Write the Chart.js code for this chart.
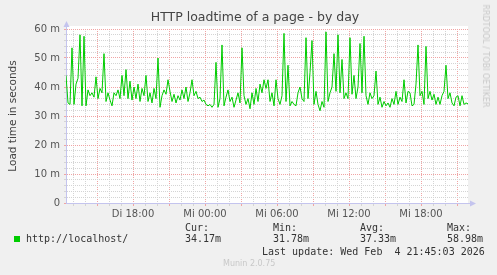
<!DOCTYPE html>
<html lang="de">
<head>
  <meta charset="UTF-8" />
  <title>HTTP loadtime of a page - by day</title>
  <script src="https://cdn.jsdelivr.net/npm/chart.js"></script>
  <style>
    body {
      margin: 0;
      padding: 0;
      background-color: #f0f0f0;
      font-family: 'DejaVu Sans', sans-serif;
    }

    .wrap {
      position: relative;
      width: 497px;
      height: 275px;
      overflow: hidden;
    }

    #loadChart {
      position: absolute;
      left: 0;
      top: 0;
    }

    .txt {
      position: absolute;
      white-space: pre;
      line-height: 1;
    }

    .mono {
      font-family: 'DejaVu Sans Mono', monospace;
      font-size: 10px;
      color: #333;
    }

    .title {
      left: 0;
      width: 510px;
      top: 11px;
      text-align: center;
      font-size: 12.5px;
      color: #444;
    }

    .ytitle {
      left: 12px;
      top: 116px;
      font-size: 10.5px;
      color: #444;
      transform: translate(-50%, -50%) rotate(-90deg);
    }

    .watermark {
      left: 485px;
      top: 56px;
      font-size: 8px;
      color: #c8c8c8;
      transform: translate(-50%, -50%) rotate(90deg);
    }

    .swatch {
      position: absolute;
      left: 14px;
      top: 236px;
      width: 6px;
      height: 6px;
      background: #00cc00;
    }

    .footer {
      left: 223px;
      top: 260px;
      font-size: 8px;
      color: #c8c8c8;
    }
  </style>
</head>
<body>
  <div class="wrap">
    <canvas id="loadChart" width="497" height="275"></canvas>
    <div class="txt title">HTTP loadtime of a page - by day</div>
    <div class="txt ytitle">Load time in seconds</div>
    <div class="txt watermark">RRDTOOL / TOBI OETIKER</div>
    <div class="swatch"></div>
    <div class="txt mono" style="left:26px; top:234px;">http://localhost/</div>
    <div class="txt mono" style="left:185px; top:223px;">Cur:</div>
    <div class="txt mono" style="left:185px; top:234px;">34.17m</div>
    <div class="txt mono" style="left:273px; top:223px;">Min:</div>
    <div class="txt mono" style="left:273px; top:234px;">31.78m</div>
    <div class="txt mono" style="left:360px; top:223px;">Avg:</div>
    <div class="txt mono" style="left:360px; top:234px;">37.33m</div>
    <div class="txt mono" style="left:447px; top:223px;">Max:</div>
    <div class="txt mono" style="left:447px; top:234px;">58.98m</div>
    <div class="txt mono" style="left:262px; top:247px;">Last update: Wed Feb  4 21:45:03 2026</div>
    <div class="txt footer">Munin 2.0.75</div>
  </div>

  <script>
    // time axis in hours since Di 00:00, one sample every 10 minutes
    const startHour = 12 + 25 / 60;
    const endHour = 45 + 55 / 60;
    const stepHours = 1 / 6;

    // load time (shown as "m")
    const loadValues = [
      44, 34.5, 34, 53.5, 34, 41, 43, 58, 33.5, 57.5,
      33.5, 39, 37, 38, 36.5, 43.5, 36, 39.5, 38, 51.5,
      35, 38, 35.5, 33.5, 38, 37, 39, 36, 44, 37,
      46, 36, 42, 35.5, 40, 36, 41, 35, 39.5, 37,
      44, 35, 38, 34.5, 39.5, 36, 50, 33, 37, 39,
      37.5, 42.5, 38.5, 35, 37.5, 34.5, 37, 35.5, 39, 36,
      40, 35, 38, 42.5, 37, 38.5, 36, 36.5, 35, 35.5,
      34, 33.5, 34, 33, 34, 48.5, 33, 36, 54.5, 33.5,
      36.5, 39, 35, 36.5, 33, 35.5, 38, 34.5, 53.5, 37,
      34, 36, 32.5, 38, 34, 39.5, 35, 41, 38, 42.5,
      39.5, 42.5, 35, 38, 33.5, 42.5, 36, 34, 37, 58.5,
      35, 47.5, 33.5, 35, 34, 33.5, 38, 40, 36, 35,
      57, 36, 45, 56, 34, 38.5, 34, 31.8, 35, 33,
      59, 35, 38, 40, 51.5, 38.5, 58, 38, 49.5, 36,
      38, 36, 57, 37.5, 44, 36, 40, 55, 38, 57.5,
      37, 34, 38, 36, 37, 45.5, 34, 36.5, 33, 35,
      33.5, 34.5, 33, 36, 34, 38.5, 34, 36.5, 35, 42.5,
      34.5, 38.5, 38, 33.5, 34, 41, 54.5, 37, 38.5, 34,
      54, 36, 38.5, 35.5, 37.5, 34, 36.5, 34, 37, 38.5,
      47.5, 36, 38, 34.5, 33.5, 36.5, 37, 33.5, 37, 34,
      34.5, 34.2
    ];

    // x grid every hour, labels every 6 hours
    const xTickValues = [18, 24, 30, 36, 42];
    const xTickLabels = ['Di 18:00', 'Mi 00:00', 'Mi 06:00', 'Mi 12:00', 'Mi 18:00'];

    // y grid every 2, labels every 10
    const yTickValues = [0, 10, 20, 30, 40, 50, 60];
    const yTickLabels = ['0', '10 m', '20 m', '30 m', '40 m', '50 m', '60 m'];

    const points = loadValues.map((v, i) => ({ x: startHour + i * stepHours, y: v }));

    const majorGrid = '#f0a4a4';
    const minorGrid = '#d4d4d4';
    const axisColor = '#c4c4ee';

    // white plot area + axis arrows
    const plotDeco = {
      id: 'plotDeco',
      beforeDraw(chart) {
        const { ctx, chartArea: a } = chart;
        ctx.save();
        ctx.fillStyle = '#ffffff';
        ctx.fillRect(a.left, a.top - 3, a.right - a.left, a.bottom - a.top + 3);
        ctx.restore();
      },
      afterDraw(chart) {
        const { ctx, chartArea: a } = chart;
        ctx.save();
        ctx.strokeStyle = axisColor;
        ctx.fillStyle = axisColor;
        ctx.lineWidth = 1;
        ctx.beginPath();
        ctx.moveTo(a.left + 0.5, a.top);
        ctx.lineTo(a.left + 0.5, a.top - 4);
        ctx.stroke();
        ctx.beginPath();
        ctx.moveTo(a.left - 2.5, a.top - 2);
        ctx.lineTo(a.left + 3.5, a.top - 2);
        ctx.lineTo(a.left + 0.5, a.top - 8);
        ctx.closePath();
        ctx.fill();
        ctx.beginPath();
        ctx.moveTo(a.right, a.bottom + 0.5);
        ctx.lineTo(a.right + 4, a.bottom + 0.5);
        ctx.stroke();
        ctx.beginPath();
        ctx.moveTo(a.right + 2, a.bottom - 2.5);
        ctx.lineTo(a.right + 2, a.bottom + 3.5);
        ctx.lineTo(a.right + 8, a.bottom + 0.5);
        ctx.closePath();
        ctx.fill();
        ctx.restore();
      }
    };

    const ctx = document.getElementById('loadChart').getContext('2d');

    const chart = new Chart(ctx, {
      type: 'line',
      data: {
        datasets: [{
          label: 'http://localhost/',
          data: points,
          borderColor: '#00cc00',
          borderWidth: 1,
          pointRadius: 0,
          tension: 0,
          fill: false
        }]
      },
      options: {
        responsive: false,
        animation: false,
        layout: {
          padding: { left: 8, right: 29, top: 29, bottom: 52 }
        },
        plugins: {
          legend: { display: false },
          title: { display: false },
          tooltip: { enabled: false }
        },
        scales: {
          x: {
            type: 'linear',
            min: startHour,
            max: endHour,
            afterBuildTicks: axis => {
              const t = [];
              for (let h = 13; h <= 45; h++) t.push({ value: h });
              axis.ticks = t;
            },
            afterFit: scale => { scale.height = 20; },
            grid: {
              color: c => (c.tick && c.tick.value % 3 === 0) ? majorGrid : minorGrid,
              tickColor: c => (c.tick && c.tick.value % 3 === 0) ? majorGrid : minorGrid,
              tickLength: 3,
              lineWidth: 1
            },
            border: { color: axisColor, width: 1, dash: [1, 1] },
            ticks: {
              autoSkip: false,
              maxRotation: 0,
              padding: 2,
              color: '#555',
              font: { family: 'DejaVu Sans', size: 10 },
              callback: v => {
                const i = xTickValues.indexOf(v);
                return i >= 0 ? xTickLabels[i] : '';
              }
            }
          },
          y: {
            min: 0,
            max: 60,
            afterBuildTicks: axis => {
              const t = [];
              for (let v = 0; v <= 60; v += 2) t.push({ value: v });
              axis.ticks = t;
            },
            afterFit: scale => { scale.width = 58; },
            grid: {
              color: c => (c.tick && c.tick.value % 10 === 0) ? majorGrid : minorGrid,
              tickColor: c => (c.tick && c.tick.value % 10 === 0) ? majorGrid : minorGrid,
              tickLength: 2,
              lineWidth: 1
            },
            border: { color: axisColor, width: 1, dash: [1, 1] },
            ticks: {
              autoSkip: false,
              padding: 4,
              color: '#555',
              font: { family: 'DejaVu Sans', size: 10 },
              callback: v => {
                const i = yTickValues.indexOf(v);
                return i >= 0 ? yTickLabels[i] : '';
              }
            }
          }
        }
      },
      plugins: [plotDeco]
    });
  </script>
</body>
</html>
